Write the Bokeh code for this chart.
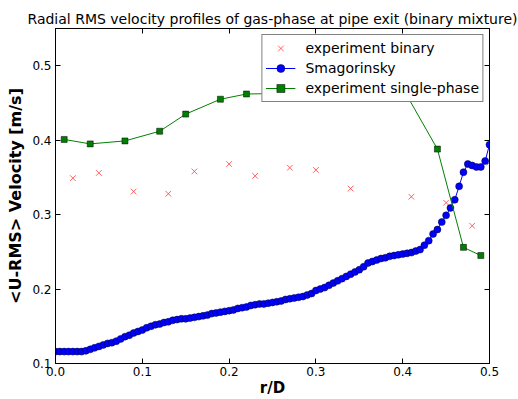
from bokeh.plotting import figure
from bokeh.models import Range1d, FixedTicker, LinearAxis, Legend, LegendItem, PrintfTickFormatter
from bokeh.embed import file_html
from bokeh.resources import INLINE

# Data
binary_r = [0.02, 0.05, 0.09, 0.13, 0.16, 0.20, 0.23, 0.27, 0.30, 0.34, 0.41, 0.45, 0.48, 0.50]
binary_u = [0.349, 0.356, 0.331, 0.328, 0.358, 0.368, 0.352, 0.363, 0.360, 0.335, 0.324, 0.316, 0.285, 0.370]

single_r = [0.01, 0.04, 0.08, 0.12, 0.15, 0.19, 0.22, 0.27, 0.32, 0.36, 0.40, 0.44, 0.47, 0.49]
single_u = [0.401, 0.395, 0.399, 0.412, 0.435, 0.455, 0.462, 0.463, 0.468, 0.472, 0.470, 0.388, 0.256, 0.245]

smag_r = [round(0.005 * i, 3) for i in range(101)]
smag_u = [
    0.116, 0.116, 0.116, 0.116, 0.116, 0.116, 0.116, 0.117, 0.119, 0.121,
    0.123, 0.125, 0.127, 0.128, 0.130, 0.133, 0.136, 0.138, 0.141, 0.143,
    0.145, 0.148, 0.150, 0.152, 0.153, 0.155, 0.156, 0.158, 0.159, 0.160,
    0.160, 0.161, 0.162, 0.163, 0.164, 0.165, 0.167, 0.168, 0.169, 0.170,
    0.171, 0.172, 0.174, 0.175, 0.176, 0.178, 0.179, 0.180, 0.180, 0.181,
    0.182, 0.183, 0.184, 0.186, 0.187, 0.188, 0.189, 0.190, 0.192, 0.194,
    0.198, 0.200, 0.202, 0.205, 0.208, 0.211, 0.214, 0.217, 0.220, 0.223,
    0.226, 0.230, 0.235, 0.237, 0.239, 0.241, 0.242, 0.244, 0.245, 0.246,
    0.247, 0.248, 0.249, 0.251, 0.253, 0.259, 0.265, 0.274, 0.280, 0.290,
    0.299, 0.309, 0.320, 0.338, 0.357, 0.368, 0.366, 0.364, 0.364, 0.372,
    0.394,
]

x_ticks = [0.0, 0.1, 0.2, 0.3, 0.4, 0.5]
y_ticks = [0.1, 0.2, 0.3, 0.4, 0.5]

FONT = "DejaVu Sans"

p = figure(width=518, height=399, x_range=Range1d(0, 0.5), y_range=Range1d(0.1, 0.55),
           output_backend="svg", toolbar_location=None,
           title="Radial RMS velocity profiles of gas-phase at pipe exit (binary mixture)")
p.min_border_left = 55
p.min_border_right = 29
p.min_border_top = 28
p.min_border_bottom = 33
p.background_fill_color = "white"
p.border_fill_color = "white"
p.outline_line_color = "black"
p.outline_line_width = 1
p.xgrid.visible = False
p.ygrid.visible = False

p.title.text_font = FONT
p.title.text_font_size = "14px"
p.title.text_font_style = "normal"
p.title.text_color = "black"
p.title.align = "center"
p.title.offset = 0
p.title.standoff = 4

for ax in [p.xaxis[0], p.yaxis[0]]:
    ax.major_tick_in = 5
    ax.major_tick_out = 0
    ax.minor_tick_line_color = None
    ax.axis_line_color = "black"
    ax.major_label_text_font = FONT
    ax.major_label_text_font_size = "12px"
    ax.major_label_text_color = "black"
    ax.axis_label_text_font = FONT
    ax.axis_label_text_font_size = "16px"
    ax.axis_label_text_font_style = "bold"
    ax.axis_label_text_color = "black"
    ax.formatter = PrintfTickFormatter(format="%.1f")

p.xaxis[0].axis_label_text_font_size = "15px"
p.xaxis[0].major_label_standoff = 3
p.xaxis[0].axis_label_standoff = 0
p.yaxis[0].major_label_standoff = 4
p.yaxis[0].axis_label_standoff = 4

p.xaxis[0].ticker = FixedTicker(ticks=x_ticks)
p.yaxis[0].ticker = FixedTicker(ticks=y_ticks)
p.xaxis[0].axis_label = "r/D"
p.yaxis[0].axis_label = "<U-RMS> Velocity [m/s]"

top_ax = LinearAxis(ticker=FixedTicker(ticks=x_ticks), major_label_text_font_size="1px",
                    major_label_text_color=None,
                    major_tick_in=5, major_tick_out=0, minor_tick_line_color=None,
                    major_label_standoff=0)
right_ax = LinearAxis(ticker=FixedTicker(ticks=y_ticks), major_label_text_font_size="1px",
                      major_label_text_color=None,
                      major_tick_in=5, major_tick_out=0, minor_tick_line_color=None,
                      major_label_standoff=0)
p.add_layout(top_ax, "above")
p.add_layout(right_ax, "right")

r_bin = p.scatter(binary_r, binary_u, marker="x", size=8, line_color="#ff3030",
                  line_alpha=0.75, line_width=1)

r_smag_l = p.line(smag_r, smag_u, line_color="#0000ff", line_width=1)
r_smag_m = p.scatter(smag_r, smag_u, marker="circle", size=7, fill_color="#0000ff",
                     line_color="#000033", line_width=0.5)

r_sing_l = p.line(single_r, single_u, line_color="#008000", line_width=1)
r_sing_m = p.scatter(single_r, single_u, marker="square", size=6, fill_color="#008000",
                     line_color="black", line_width=0.5)

legend = Legend(items=[
    LegendItem(label="experiment binary", renderers=[r_bin]),
    LegendItem(label="Smagorinsky", renderers=[r_smag_l, r_smag_m]),
    LegendItem(label="experiment single-phase", renderers=[r_sing_l, r_sing_m]),
], location="top_right")
legend.label_text_font = FONT
legend.label_text_font_size = "14px"
legend.label_text_color = "black"
legend.border_line_color = "black"
legend.border_line_width = 1
legend.background_fill_alpha = 1.0
legend.margin = 6
legend.padding = 3
legend.spacing = 0
legend.glyph_width = 30
legend.glyph_height = 20
legend.label_height = 20
legend.label_standoff = 10
p.add_layout(legend)

open("out.html", "w").write(file_html(p, INLINE))
